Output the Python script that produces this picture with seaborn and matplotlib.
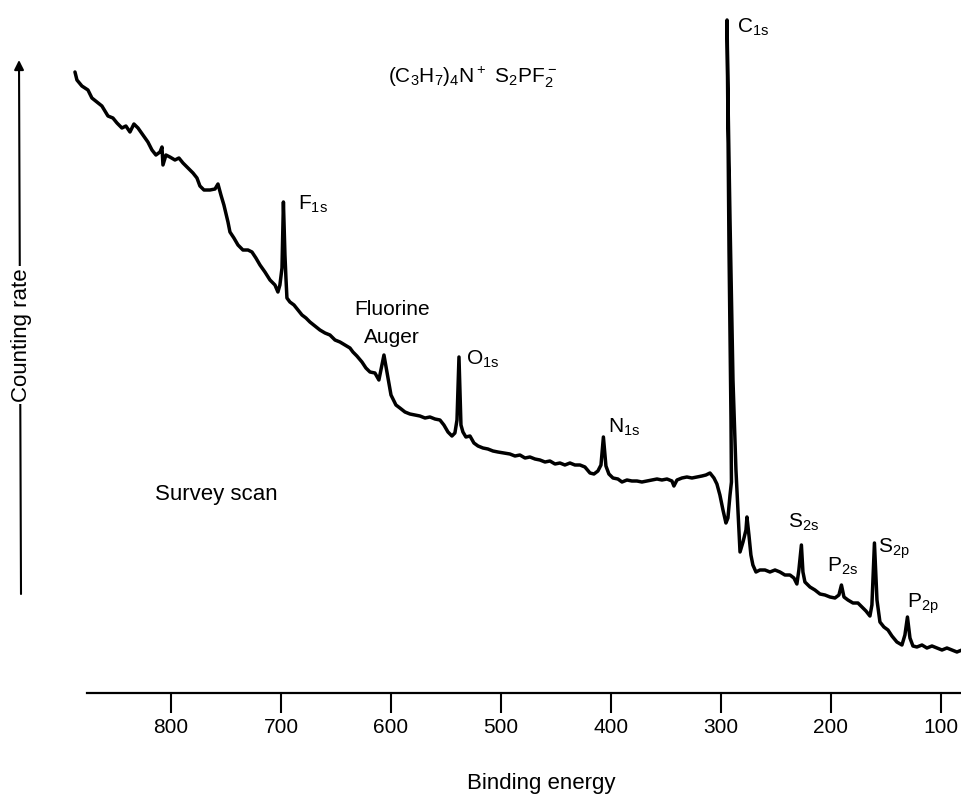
import matplotlib
matplotlib.use("Agg")
import matplotlib.pyplot as plt
import seaborn as sns
import numpy as np
import pandas as pd

# Binding energy (eV) (left to right, as drawn)
energy = [
    887.3, 885.5, 881.0, 875.5, 871.9, 867.3, 862.8, 857.3, 852.8, 849.1,
    844.6, 841.0, 837.3, 833.7, 830.0, 825.5, 821.0, 817.3, 813.7, 810.0,
    808.2, 807.3, 804.6, 801.0, 796.4, 792.8, 789.1, 784.6, 780.0, 776.4,
    773.7, 770.0, 764.6, 760.0, 757.3, 754.6, 751.9, 748.2, 746.4, 742.8,
    739.1, 734.6, 730.0, 726.4, 722.8, 719.1, 714.6, 710.0, 705.5, 702.8,
    701.0, 699.1, 697.8, 696.4, 695.5, 694.6, 691.9, 688.2, 684.6, 680.9,
    677.3, 673.7, 669.1, 664.6, 660.0, 655.5, 650.9, 646.4, 641.9, 637.3,
    634.6, 631.0, 626.4, 622.8, 619.1, 614.6, 611.0, 606.4, 603.7, 600.0,
    595.5, 591.9, 587.3, 582.8, 578.2, 573.7, 569.1, 564.6, 560.0, 555.5,
    551.9, 548.2, 544.6, 541.9, 540.0, 538.2, 536.4, 534.6, 531.9, 528.2,
    524.6, 520.9, 516.4, 511.9, 507.3, 502.8, 497.3, 491.9, 487.3, 482.8,
    478.2, 473.7, 469.1, 464.6, 460.0, 455.5, 450.9, 446.4, 441.9, 437.3,
    432.8, 428.2, 423.7, 419.1, 415.5, 411.9, 409.1, 406.9, 404.6, 401.9,
    398.2, 393.7, 390.0, 385.5, 381.0, 376.4, 371.9, 367.3, 362.8, 358.2,
    353.7, 349.1, 344.6, 342.8, 340.0, 335.5, 331.0, 326.4, 321.9, 317.3,
    313.7, 310.0, 306.4, 303.7, 301.0, 298.2, 295.5, 293.7, 291.8, 290.5,
    290.9, 292.7, 294.5, 293.6, 291.8, 289.1, 286.4, 282.7, 280.0, 277.3,
    276.4, 274.6, 272.8, 271.0, 268.2, 264.6, 260.0, 255.5, 250.9, 246.4,
    241.9, 237.3, 233.7, 231.0, 229.2, 226.9, 225.5, 223.7, 219.1, 214.6,
    210.0, 205.5, 200.9, 196.4, 192.8, 190.5, 188.2, 184.6, 180.0, 175.5,
    171.9, 168.2, 164.6, 162.8, 160.5, 158.2, 155.5, 151.9, 148.2, 144.6,
    140.1, 135.5, 132.8, 130.5, 128.2, 125.5, 121.9, 117.3, 112.8, 108.2,
    103.7, 99.1, 94.6, 90.0, 85.5, 81.0,
]

# Counting rate (arbitrary units)
counts = [
    621, 613, 607, 603, 595, 591, 587, 577, 575, 570,
    565, 567, 561, 569, 565, 558, 551, 543, 538, 541,
    546, 528, 538, 536, 533, 535, 530, 525, 520, 515,
    507, 503, 503, 504, 509, 498, 488, 471, 461, 455,
    448, 443, 443, 441, 435, 428, 421, 413, 408, 401,
    408, 425, 491, 438, 415, 395, 391, 388, 383, 378,
    375, 371, 367, 363, 360, 358, 353, 351, 348, 345,
    341, 337, 331, 325, 321, 320, 313, 338, 321, 298,
    288, 285, 281, 279, 278, 277, 275, 276, 274, 273,
    268, 261, 257, 260, 273, 336, 268, 261, 256, 257,
    250, 247, 245, 244, 242, 241, 240, 239, 237, 238,
    235, 236, 234, 233, 231, 232, 229, 230, 228, 230,
    228, 228, 226, 220, 219, 222, 228, 256, 227, 219,
    215, 214, 211, 213, 212, 212, 211, 212, 213, 214,
    213, 214, 212, 207, 213, 215, 216, 215, 216, 217,
    218, 220, 215, 209, 198, 183, 170, 175, 198, 211,
    273, 443, 673, 593, 473, 313, 223, 141, 151, 163,
    176, 158, 138, 128, 121, 123, 123, 121, 123, 121,
    118, 118, 115, 109, 123, 148, 121, 111, 106, 103,
    99, 98, 96, 95, 98, 108, 96, 93, 90, 90,
    86, 82, 77, 88, 150, 93, 71, 66, 63, 57,
    51, 48, 58, 76, 55, 47, 46, 48, 45, 47,
    45, 43, 45, 43, 41, 43,
]

tick_values = [800, 700, 600, 500, 400, 300, 200, 100]

# peak labels: (text, energy, counts at baseline)
peak_labels = ["C$_{1s}$", "F$_{1s}$", "O$_{1s}$", "N$_{1s}$",
               "S$_{2s}$", "P$_{2s}$", "S$_{2p}$", "P$_{2p}$"]
peak_label_e = [285.4, 684.5, 531.8, 402.7, 239.1, 203.6, 157.3, 130.9]
peak_label_c = [660, 483, 328, 260, 165, 121, 140, 85]

sns.set_theme(style="white")
plt.rcParams["font.family"] = ["Liberation Sans", "DejaVu Sans"]
plt.rcParams["mathtext.default"] = "regular"
plt.rcParams["text.color"] = "black"
plt.rcParams["axes.labelcolor"] = "black"
plt.rcParams["xtick.color"] = "black"

W, H = 962, 797
fig = plt.figure(figsize=(W / 100, H / 100), dpi=100)
ax = fig.add_axes([0, (H - 693) / H, 1, 693 / H])

df = pd.DataFrame({"energy": energy, "counts": counts})
sns.lineplot(data=df, x="energy", y="counts", sort=False, estimator=None,
             color="black", lw=2.5, ax=ax)

ax.set_xlim(955.45, 80.9)
ax.set_ylim(0, 693)
for s in ["left", "right", "top"]:
    ax.spines[s].set_visible(False)
ax.spines["bottom"].set_color("black")
ax.spines["bottom"].set_linewidth(1.6)
ax.spines["bottom"].set_bounds(876.6, 79)
ax.set_xticks(tick_values)
ax.set_xticklabels([str(v) for v in tick_values])
ax.set_yticks([])
ax.tick_params(axis="x", direction="out", length=14.5, width=1.5, pad=3.5,
               labelsize=15, colors="black", bottom=True)
ax.set_xlabel("")
ax.set_ylabel("")
ax.patch.set_alpha(0)

for t, e, c in zip(peak_labels, peak_label_e, peak_label_c):
    ax.text(e, c, t, ha="left", va="baseline", fontsize=15, color="black")

ax.text(599.1, 378, "Fluorine", ha="center", va="baseline", fontsize=15,
        color="black")
ax.text(599.1, 350, "Auger", ha="center", va="baseline", fontsize=15,
        color="black")
ax.text(814.5, 193, "Survey scan", ha="left", va="baseline", fontsize=16,
        color="black")
ax.text(526.4, 611, "(C$_3$H$_7$)$_4$N$^+$ S$_2$PF$_2^-$", ha="center",
        va="baseline", fontsize=15, color="black")

# Counting rate arrow on the left
ax.annotate("", xy=(19, H - 60), xytext=(21, H - 594),
            xycoords="figure pixels", textcoords="figure pixels",
            arrowprops=dict(arrowstyle="-|>", lw=1.5, color="black",
                            mutation_scale=14, shrinkA=0, shrinkB=0))
fig.text(22 / W, (H - 335) / H, "Counting rate", rotation=90, ha="center",
         va="center", fontsize=16, color="black",
         bbox=dict(facecolor="white", edgecolor="none", pad=1.5))

fig.text(541 / W, 8 / H, "Binding energy", ha="center", va="baseline",
         fontsize=16, color="black")

fig.savefig("out.png", dpi=100)
